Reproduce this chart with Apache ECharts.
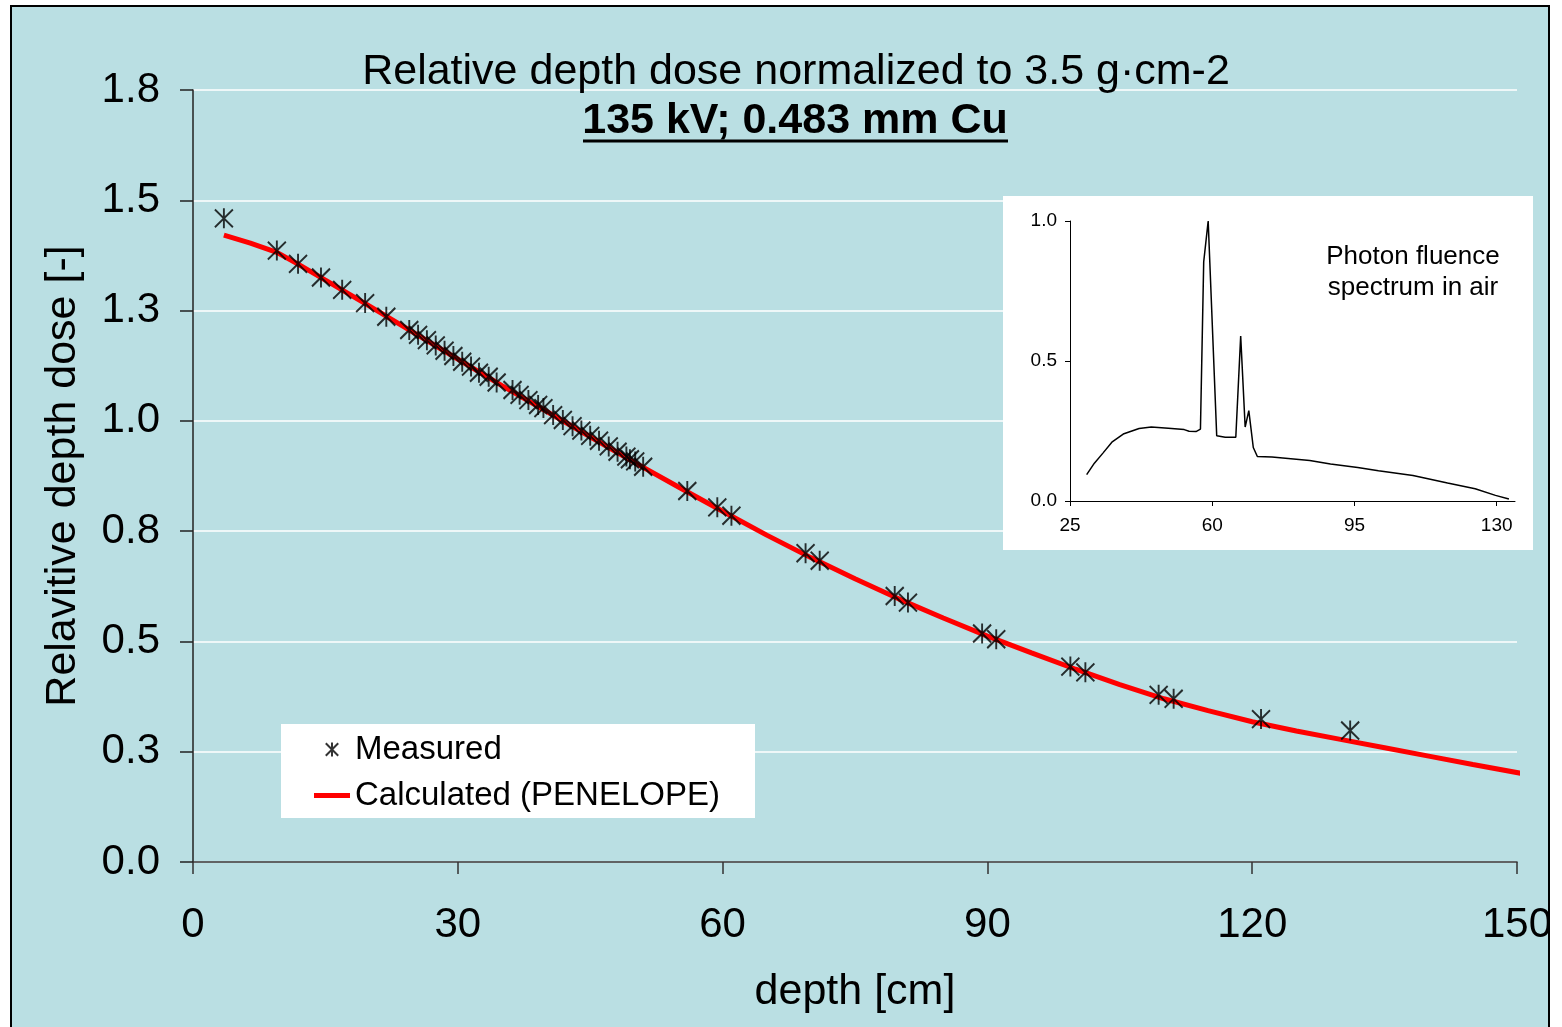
<!DOCTYPE html>
<html><head><meta charset="utf-8">
<script src="https://cdn.jsdelivr.net/npm/echarts@6/dist/echarts.min.js"></script>
<style>html,body{margin:0;padding:0;background:#fff}#c{width:1562px;height:1027px}</style>
</head><body><div id="c"></div>
<script>
// ---- data ----
const measuredDepth = [3.5, 9.5, 11.9, 14.5, 16.9, 19.5, 21.9, 24.5, 25.5, 26.5, 27.5, 28.5, 29.5, 30.5, 31.5, 32.4, 33.5, 34.4, 36.2, 37.0, 38.0, 39.1, 39.7, 40.8, 41.9, 43.0, 44.0, 45.0, 46.0, 47.1, 48.1, 49.1, 49.5, 50.1, 51.0, 56.0, 59.4, 61.0, 69.4, 71.0, 79.5, 81.0, 89.4, 91.0, 99.4, 101.1, 109.4, 111.1, 121.0, 131.1];
const measuredDose = [1.459, 1.386, 1.356, 1.325, 1.297, 1.267, 1.236, 1.206, 1.195, 1.183, 1.171, 1.159, 1.147, 1.134, 1.123, 1.109, 1.100, 1.087, 1.070, 1.059, 1.047, 1.036, 1.029, 1.013, 1.002, 0.988, 0.978, 0.966, 0.955, 0.942, 0.930, 0.919, 0.913, 0.908, 0.896, 0.841, 0.804, 0.785, 0.700, 0.683, 0.603, 0.588, 0.518, 0.505, 0.443, 0.430, 0.379, 0.370, 0.324, 0.298];
const calcDepth = [3.5, 6.5, 9.5, 12, 15, 20, 25, 30, 35, 40, 45, 50, 55, 60, 65, 70, 75, 80, 85, 90, 95, 100, 105, 110, 115, 120, 125, 130, 135, 140, 145, 151];
const calcDose = [1.421, 1.403, 1.382, 1.354, 1.319, 1.260, 1.200, 1.140, 1.080, 1.022, 0.964, 0.906, 0.850, 0.795, 0.741, 0.690, 0.642, 0.596, 0.553, 0.512, 0.474, 0.437, 0.402, 0.370, 0.343, 0.318, 0.297, 0.278, 0.259, 0.240, 0.221, 0.199];
const spectrumEnergy = [29.1, 31.0, 33.1, 35.3, 38.1, 42.0, 45.0, 49.2, 53.1, 54.3, 56.0, 57.1, 57.9, 59.0, 61.1, 63.2, 65.8, 67.0, 68.1, 69.0, 70.1, 71.1, 74.7, 84.0, 89.1, 95.8, 100.9, 109.4, 117.9, 124.7, 129.7, 133.0];
const spectrumFluence = [0.094, 0.135, 0.171, 0.210, 0.239, 0.259, 0.264, 0.260, 0.255, 0.249, 0.248, 0.257, 0.854, 1.000, 0.233, 0.228, 0.228, 0.589, 0.264, 0.323, 0.191, 0.159, 0.157, 0.145, 0.132, 0.120, 0.108, 0.091, 0.064, 0.044, 0.020, 0.007];
const energyTicks = [25, 60, 95, 130];
const titleLine1 = 'Relative depth dose normalized to 3.5 g\u00b7cm-2';
const titleLine2 = '135 kV; 0.483 mm Cu';
const insetLabel = 'Photon fluence\nspectrum in air';

const FONT = '"Liberation Sans", Arial, sans-serif';
const BG = '#BADFE3';
const chart = echarts.init(document.getElementById('c'), null, {renderer: 'canvas'});

const starPath = 'path://M8,0L8,18M0,1L16,17M0,17L16,1';
const lineIcon = 'path://M0,0H36V5H0Z';

const option = {
  backgroundColor: '#fff',
  animation: false,
  textStyle: {fontFamily: FONT, color: '#000'},
  grid: [
    {left: 193, right: 45, top: 90, bottom: 165},
    {left: 1070, right: 47, top: 221, bottom: 526}
  ],
  xAxis: [
    {
      gridIndex: 0, type: 'value', min: 0, max: 150, interval: 30,
      name: 'depth [cm]', nameLocation: 'middle', nameGap: 109,
      nameTextStyle: {fontSize: 43, color: '#000', fontFamily: FONT},
      axisLine: {show: true, lineStyle: {color: '#333', width: 1.5}},
      axisTick: {show: true, length: 12, lineStyle: {color: '#333', width: 1.5}},
      axisLabel: {fontSize: 42, color: '#000', margin: 42, fontFamily: FONT},
      splitLine: {show: false}
    },
    {
      gridIndex: 1, type: 'value', min: 25, max: 134.5, z: 3,
      axisLine: {show: true, lineStyle: {color: '#000', width: 1}},
      axisTick: {show: true, length: 5, customValues: energyTicks, lineStyle: {color: '#000'}},
      axisLabel: {fontSize: 19, color: '#000', margin: 15, customValues: energyTicks, fontFamily: FONT},
      splitLine: {show: false}
    }
  ],
  yAxis: [
    {
      gridIndex: 0, type: 'value', min: 0, max: 1.75, interval: 0.25,
      name: 'Relavitive depth dose [-]', nameLocation: 'middle', nameGap: 108, nameRotate: 90,
      nameTextStyle: {fontSize: 43, color: '#000', fontFamily: FONT},
      axisLine: {show: true, lineStyle: {color: '#222', width: 1.5}},
      axisTick: {show: true, length: 13, lineStyle: {color: '#222', width: 1.5}},
      axisLabel: {fontSize: 42, color: '#000', margin: 33, padding: [4, 0, 0, 0], fontFamily: FONT, formatter: v => v.toFixed(1)},
      splitLine: {show: true, lineStyle: {color: '#fff', width: 1.5}}
    },
    {
      gridIndex: 1, type: 'value', min: 0, max: 1, interval: 0.5, z: 3,
      axisLine: {show: true, lineStyle: {color: '#000', width: 1}},
      axisTick: {show: true, length: 5, lineStyle: {color: '#000'}},
      axisLabel: {fontSize: 19, color: '#000', margin: 13, fontFamily: FONT, formatter: v => v.toFixed(1)},
      splitLine: {show: false}
    }
  ],
  legend: {
    data: [{name: 'Measured'}, {name: 'Calculated (PENELOPE)', icon: lineIcon}],
    orient: 'vertical', left: 314, top: 733, padding: 0,
    itemWidth: 36, itemHeight: 14, itemGap: 13,
    textStyle: {fontSize: 33, color: '#000', fontFamily: FONT}
  },
  series: [
    {
      name: 'Calculated (PENELOPE)', type: 'line', xAxisIndex: 0, yAxisIndex: 0,
      data: calcDepth.map((d, i) => [d, calcDose[i]]),
      symbol: 'none', showSymbol: false, clip: false, z: 2,
      lineStyle: {color: '#FF0000', width: 5},
      itemStyle: {color: '#FF0000'}
    },
    {
      name: 'Measured', type: 'scatter', xAxisIndex: 0, yAxisIndex: 0,
      data: measuredDepth.map((d, i) => [d, measuredDose[i]]),
      symbol: starPath, symbolSize: [18, 20], z: 3,
      itemStyle: {color: 'rgba(0,0,0,0)', borderColor: '#000', borderWidth: 2}
    },
    {
      name: 'spectrum', type: 'line', xAxisIndex: 1, yAxisIndex: 1,
      data: spectrumEnergy.map((e, i) => [e, spectrumFluence[i]]),
      symbol: 'none', z: 4,
      lineStyle: {color: '#000', width: 1.5}
    }
  ],
  graphic: [
    {type: 'rect', z: -10, shape: {x: 11, y: 6, width: 1538, height: 1040}, style: {fill: BG}},
    {type: 'rect', z: -5, shape: {x: 1003, y: 196, width: 530, height: 354}, style: {fill: '#fff'}},
    {type: 'rect', z: -5, shape: {x: 281, y: 724, width: 474, height: 94}, style: {fill: '#fff'}},
    {type: 'text', z: 10, x: 796, y: 72, style: {text: titleLine1, fontSize: 43, fontFamily: FONT, fill: '#000', align: 'center', verticalAlign: 'middle'}},
    {type: 'text', z: 10, x: 795, y: 121, style: {text: titleLine2, fontSize: 43, fontWeight: 'bold', fontFamily: FONT, fill: '#000', align: 'center', verticalAlign: 'middle'}},
    {type: 'line', z: 10, shape: {x1: 583, y1: 141, x2: 1008, y2: 141}, style: {stroke: '#000', lineWidth: 3}},
    {type: 'text', z: 10, x: 1413, y: 272, style: {text: insetLabel, fontSize: 26, lineHeight: 31, fontFamily: FONT, fill: '#000', align: 'center', verticalAlign: 'middle'}},
    {type: 'rect', z: 50, shape: {x: 1550, y: 0, width: 12, height: 1027}, style: {fill: '#fff'}},
    {type: 'rect', z: 51, shape: {x: 11, y: 6, width: 1538, height: 1040}, style: {fill: 'none', stroke: '#000', lineWidth: 2}}
  ]
};
chart.setOption(option);
</script>
</body></html>
